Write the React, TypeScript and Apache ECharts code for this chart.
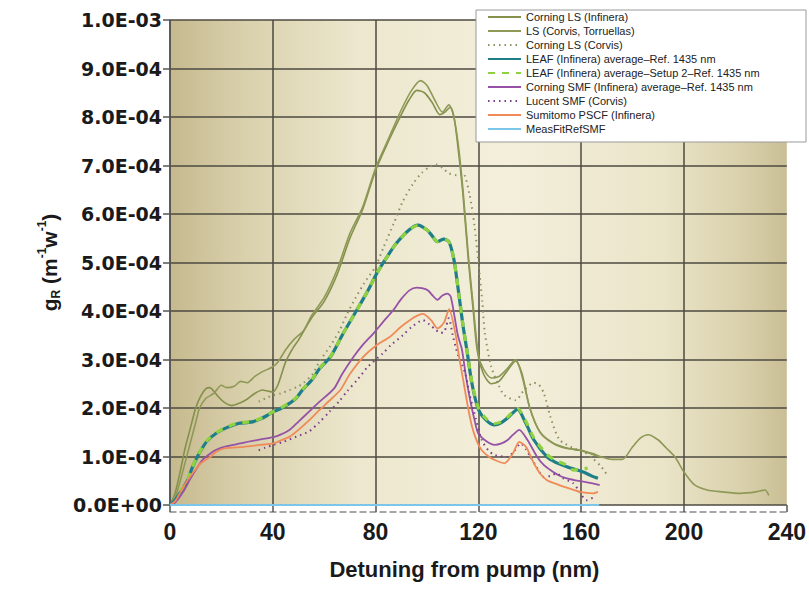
import React, { useEffect, useRef } from "react";
import * as echarts from "echarts";

// Values: [detuning nm, gR in units of 1e-4 m^-1 W^-1]
const UNIT = 1e-4;

const corningLsInfinera: number[][] = [
  [0, 0], [2, 0.25], [4, 0.7], [6, 1.2], [8, 1.6], [10, 2.0], [12, 2.25], [14, 2.4], [15.5, 2.42], [17, 2.35],
  [19, 2.22], [21, 2.12], [24, 2.05], [27, 2.1], [30, 2.18], [33, 2.3], [36, 2.37], [38, 2.35], [40, 2.33],
  [42, 2.48], [45, 2.95], [48, 3.25], [50, 3.4], [55, 3.85], [60, 4.2], [65, 4.75], [70, 5.5], [75, 6.1],
  [80, 6.9], [85, 7.5], [90, 8.05], [93, 8.35], [96, 8.55], [99, 8.5], [102, 8.3], [105, 8.05], [107, 8.1],
  [109, 8.2], [110.5, 8.0], [112, 7.4], [114, 6.4], [116, 5.1], [118, 4.0], [119.5, 3.2], [122, 2.7],
  [125, 2.5], [128, 2.55], [131, 2.75], [134.5, 2.97], [137, 2.7], [140, 2.0], [144, 1.5], [149, 1.28],
  [154, 1.18], [160, 1.12], [164, 1.05], [168, 0.98],
];

const lsCorvisTorruellas: number[][] = [
  [0, 0], [2, 0.15], [4, 0.5], [6, 0.9], [8, 1.3], [10, 1.7], [11.5, 2.0], [14, 2.2], [17, 2.3], [20, 2.47],
  [22, 2.42], [25, 2.45], [27.5, 2.55], [30, 2.52], [33, 2.65], [36, 2.75], [40, 2.85], [42, 2.95], [45, 3.2],
  [48, 3.4], [52, 3.6], [55, 3.9], [60, 4.28], [65, 4.85], [70, 5.6], [75, 6.15], [80, 6.95], [85, 7.55],
  [90, 8.15], [94, 8.55], [97.5, 8.75], [100, 8.65], [103, 8.35], [106, 8.1], [108.5, 8.25], [110, 8.1],
  [112, 7.5], [114, 6.5], [116, 5.2], [118, 4.1], [120, 3.1], [122, 2.8], [125, 2.62], [128, 2.65], [131, 2.8],
  [134.5, 3.0], [137, 2.65], [140, 2.0], [144, 1.5], [149, 1.27], [154, 1.17], [160, 1.13], [164.5, 1.06],
  [168, 0.99], [172, 0.94], [176, 0.94], [180, 1.2], [183, 1.38], [186, 1.45], [190, 1.34], [193, 1.18],
  [196.5, 0.99], [200, 0.68], [204, 0.42], [209, 0.31], [215, 0.27], [222, 0.24], [228, 0.27], [231.5, 0.31],
  [233, 0.2],
];

const corningLsCorvis: number[][] = [
  [34.5, 2.13], [38, 2.22], [40, 2.26], [43, 2.3], [46.5, 2.37], [50, 2.45], [52, 2.52], [55.5, 2.7], [58, 2.95],
  [62, 3.25], [66, 3.6], [69, 3.95], [72, 4.25], [75.5, 4.57], [80, 4.92], [83, 5.3], [87, 5.8], [90.5, 6.25],
  [94.5, 6.62], [98, 6.85], [101, 6.97], [103.5, 7.02], [106, 6.95], [108.5, 6.84], [111.5, 6.8], [114, 6.84],
  [116.5, 6.42], [118.5, 5.75], [120, 5.0], [121.5, 4.2], [122.5, 3.55], [125, 2.85], [128, 2.45], [130, 2.27],
  [134.5, 2.16], [137.5, 2.35], [141.5, 2.52], [143.5, 2.48], [145.5, 2.3], [148, 1.82], [151.5, 1.35],
  [157, 1.17], [161, 1.1], [164.5, 0.96], [167.8, 0.79], [169.7, 0.65],
];

const leafInfinera: number[][] = [
  [0, 0], [2, 0.1], [4.5, 0.3], [7, 0.52], [8.5, 0.75], [10.3, 0.96], [12.5, 1.17], [14.8, 1.34], [18, 1.48],
  [21.4, 1.58], [26.5, 1.68], [30, 1.7], [32.5, 1.72], [35, 1.77], [37.6, 1.84], [40, 1.92], [42.8, 1.98],
  [46, 2.08], [49, 2.2], [51.7, 2.38], [55.5, 2.6], [58, 2.8], [62.5, 3.06], [67, 3.5], [72.7, 4.02],
  [77, 4.42], [80.4, 4.77], [84, 5.08], [88, 5.39], [93, 5.67], [96.5, 5.77], [100, 5.67], [102, 5.55],
  [104, 5.43], [106.5, 5.48], [108.5, 5.43], [110.5, 5.05], [112.5, 4.3], [114, 3.7], [115.5, 3.2],
  [117.5, 2.5], [120, 1.97], [123, 1.75], [126.3, 1.65], [129, 1.7], [131.5, 1.8], [135.2, 1.97],
  [138.5, 1.68], [141.6, 1.34], [146.7, 0.99], [150, 0.88], [154.4, 0.79], [160.8, 0.68], [164, 0.6],
  [166.5, 0.55],
];

const leafSetup2: number[][] = [
  [4, 0.28], [7, 0.54], [8.5, 0.76], [10.3, 0.97], [12.5, 1.18], [14.8, 1.35], [18, 1.49], [21.4, 1.59],
  [26.5, 1.69], [30, 1.71], [32.5, 1.73], [35, 1.78], [37.6, 1.85], [40, 1.92], [42.8, 1.99], [46, 2.09],
  [49, 2.21], [51.7, 2.39], [55.5, 2.61], [58, 2.81], [62.5, 3.07], [67, 3.5], [72.7, 4.02], [77, 4.42],
  [80.4, 4.77], [84, 5.08], [88, 5.39], [93, 5.67], [96.5, 5.77], [100, 5.67], [102, 5.55], [104, 5.43],
  [106.5, 5.48], [108.5, 5.43], [110.5, 5.05], [112.5, 4.3], [114, 3.7], [115.5, 3.2], [117.5, 2.52],
  [120, 2.0], [123, 1.78], [126.3, 1.68], [129, 1.72], [131.5, 1.82], [135.2, 1.99], [138.5, 1.72],
  [141.6, 1.38], [146.7, 1.04], [150, 0.92], [154.4, 0.82], [157, 0.72], [160, 0.74], [162.5, 0.76],
];

const corningSmf: number[][] = [
  [0, 0], [2, 0.05], [5, 0.26], [8, 0.55], [10.8, 0.79], [13, 0.95], [15.9, 1.07], [18, 1.14], [21.1, 1.2],
  [27.4, 1.27], [33.8, 1.34], [40.2, 1.4], [43, 1.45], [46.6, 1.55], [50, 1.72], [54.2, 1.93], [58, 2.12],
  [63.8, 2.4], [67, 2.7], [71.5, 3.06], [75, 3.3], [79.2, 3.54], [83, 3.78], [86.9, 4.02], [90, 4.25],
  [93.3, 4.43], [96, 4.48], [98, 4.47], [100.3, 4.43], [102, 4.33], [104.1, 4.23], [106, 4.32], [107.9, 4.36],
  [109.2, 4.3], [110.5, 3.95], [112, 3.5], [113.6, 3.2], [115, 2.7], [116.8, 2.16], [118.5, 1.75],
  [119.9, 1.48], [123, 1.32], [126.3, 1.24], [129, 1.27], [131.4, 1.34], [133.5, 1.45], [135.9, 1.55],
  [139.1, 1.34], [142.9, 0.99], [145.5, 0.82], [148, 0.72], [151, 0.62], [154.4, 0.55], [160.8, 0.48],
  [164, 0.45], [167.2, 0.41],
];

const lucentSmf: number[][] = [
  [34.5, 1.13], [37, 1.18], [40.2, 1.24], [44, 1.3], [49.2, 1.41], [54.2, 1.52], [58, 1.7], [62, 1.92],
  [66, 2.15], [69, 2.35], [72.7, 2.57], [77, 2.85], [82.9, 3.13], [86, 3.3], [90.6, 3.5], [94, 3.67],
  [98.4, 3.81], [101, 3.72], [103.5, 3.61], [105, 3.55], [106.7, 3.57], [108.5, 3.85], [110, 3.5], [112, 3.1],
  [114.9, 2.71], [116.5, 2.3], [118.1, 1.96], [121.3, 1.34], [124, 1.12], [126.3, 1.03], [131.4, 0.99],
  [134, 1.12], [136.5, 1.27], [138.5, 1.15], [140.3, 0.99], [143, 0.75], [145.4, 0.58], [148, 0.6],
  [150.5, 0.65], [153, 0.55], [156.9, 0.45], [159, 0.3], [162.1, 0.1], [165.3, 0.17],
];

const sumitomoPscf: number[][] = [
  [0, 0], [2, 0.08], [4.8, 0.34], [7, 0.52], [9.3, 0.69], [12, 0.86], [15.9, 1.0], [18, 1.1], [21.1, 1.17],
  [24, 1.18], [28.7, 1.2], [35.1, 1.24], [40.2, 1.27], [43, 1.33], [46.6, 1.41], [50, 1.55], [54.2, 1.75],
  [58, 1.95], [62, 2.15], [66.3, 2.37], [70, 2.7], [75.3, 3.06], [80, 3.28], [85.6, 3.47], [90, 3.68],
  [93.3, 3.81], [96, 3.9], [98.4, 3.94], [101.6, 3.81], [104.1, 3.64], [106.6, 3.76], [108.6, 4.04],
  [111, 3.55], [112.5, 3.05], [114.3, 2.51], [116, 2.0], [117.5, 1.62], [119.5, 1.3], [121.3, 1.13],
  [124, 1.0], [126.3, 0.93], [130.1, 0.86], [133.4, 1.06], [135.9, 1.3], [138.5, 1.2], [141.6, 0.86],
  [144, 0.65], [146.7, 0.51], [150, 0.44], [153.1, 0.38], [159.5, 0.27], [164.6, 0.24], [166.5, 0.27],
];

const measFitRefSmf: number[][] = [
  [0, 0], [167, 0],
];

const xTicks = { min: 0, max: 240, interval: 40 };
const yTicks = { min: 0, max: 1e-3, interval: 1e-4 };

const FONT = "'Liberation Sans', Arial, Helvetica, sans-serif";
const WIDE_FONT = "'DejaVu Sans', 'Liberation Sans', Arial, sans-serif";

function sciLabel(v: number): string {
  if (Math.abs(v) < 1e-12) return "0.0E+00";
  const [m, e] = v.toExponential(1).split("e");
  const sign = e[0] === "-" ? "-" : "+";
  const d = e.replace(/[+-]/, "").padStart(2, "0");
  return `${m}E${sign}${d}`;
}

const toData = (arr: number[][]) => arr.map(([x, y]) => [x, y * UNIT]);

export default function App() {
  const ref = useRef<HTMLDivElement>(null);
  useEffect(() => {
    document.body.style.margin = "0";
    document.body.style.background = "#ffffff";
    if (!ref.current) return;
    const chart = echarts.init(ref.current, undefined, { renderer: "svg" });
    const line = (
      name: string,
      data: number[][],
      color: string,
      width: number,
      type: any = "solid",
      smooth: number = 0.25
    ) => ({
      name,
      type: "line",
      data: toData(data),
      symbol: "none",
      smooth,
      lineStyle: { color, width, type },
      itemStyle: { color },
      z: 2,
    });
    chart.setOption({
      animation: false,
      backgroundColor: "#ffffff",
      grid: {
        left: 170,
        right: 12,
        top: 20,
        bottom: 87,
        show: true,
        borderWidth: 0,
        backgroundColor: new echarts.graphic.LinearGradient(0, 0, 1, 0, [
          { offset: 0, color: "#c6b98e" },
          { offset: 0.12, color: "#d9d0ac" },
          { offset: 0.3, color: "#ece7cd" },
          { offset: 0.55, color: "#f3efdb" },
          { offset: 0.8, color: "#eae4c8" },
          { offset: 0.93, color: "#d9d0ab" },
          { offset: 1, color: "#c9be95" },
        ]),
      },
      graphic: [
        {
          type: "rect",
          z: 3,
          shape: { x: 476, y: 10, width: 330, height: 132 },
          style: { fill: "#ffffff", stroke: "#9a9a9a", lineWidth: 1 },
          silent: true,
        },
      ],
      legend: {
        orient: "vertical",
        left: 476,
        top: 10,
        z: 4,
        itemWidth: 33,
        itemHeight: 10,
        itemGap: 2,
        padding: [1, 10, 7, 11],
        itemStyle: { opacity: 0 },
        textStyle: { fontSize: 11, color: "#222222", fontFamily: FONT, lineHeight: 12 },
        data: [
          "Corning LS (Infinera)",
          "LS (Corvis, Torruellas)",
          "Corning LS (Corvis)",
          "LEAF (Infinera) average–Ref. 1435 nm",
          "LEAF (Infinera) average–Setup 2–Ref. 1435 nm",
          "Corning SMF (Infinera) average–Ref. 1435 nm",
          "Lucent SMF (Corvis)",
          "Sumitomo PSCF (Infinera)",
          "MeasFitRefSMF",
        ],
      },
      xAxis: {
        type: "value",
        min: xTicks.min,
        max: xTicks.max,
        interval: xTicks.interval,
        offset: 7,
        name: "Detuning from pump (nm)",
        nameLocation: "middle",
        nameGap: 46,
        nameTextStyle: {
          fontSize: 22,
          fontWeight: "bold",
          color: "#1a1a1a",
          fontFamily: FONT,
          padding: [0, 28, 0, 0],
        },
        axisLine: { show: true, onZero: false, lineStyle: { color: "#8a8a8a", width: 1.5, type: [6, 4] } },
        axisTick: { show: true, inside: true, length: 7, lineStyle: { color: "#555555", width: 1.5 } },
        axisLabel: {
          fontSize: 23,
          fontWeight: "bold",
          color: "#1a1a1a",
          fontFamily: FONT,
          margin: 8,
        },
        splitLine: { show: true, showMaxLine: false, lineStyle: { color: "#4d4a40", width: 1.5 } },
      },
      yAxis: {
        type: "value",
        min: yTicks.min,
        max: yTicks.max,
        interval: yTicks.interval,
        name: "{a|g}{sub|R}{a| (m}{sup|-1}{a|w}{sup|-1}{a|)}",
        nameLocation: "middle",
        nameRotate: 90,
        nameGap: 108,
        nameTextStyle: {
          color: "#1a1a1a",
          fontFamily: FONT,
          rich: {
            a: { fontSize: 21, fontWeight: "bold", fontFamily: FONT, color: "#1a1a1a", lineHeight: 26 },
            sub: { fontSize: 12, fontWeight: "bold", fontFamily: FONT, color: "#1a1a1a", verticalAlign: "bottom", lineHeight: 12 },
            sup: { fontSize: 12, fontWeight: "bold", fontFamily: FONT, color: "#1a1a1a", verticalAlign: "top", lineHeight: 12 },
          },
        },
        axisLine: { show: true, lineStyle: { color: "#555555", width: 1.5 } },
        axisTick: { show: true, length: 7, lineStyle: { color: "#555555", width: 1.5 } },
        axisLabel: {
          fontSize: 19,
          fontWeight: "bold",
          color: "#1a1a1a",
          fontFamily: WIDE_FONT,
          margin: 8,
          formatter: (v: number) => sciLabel(v),
        },
        splitLine: { show: true, lineStyle: { color: "#4d4a40", width: 1.5 } },
      },
      series: [
        line("Corning LS (Infinera)", corningLsInfinera, "#84904b", 1.6),
        line("LS (Corvis, Torruellas)", lsCorvisTorruellas, "#8e9958", 1.6),
        line("Corning LS (Corvis)", corningLsCorvis, "#8c9160", 2, [1.5, 4]),
        line("LEAF (Infinera) average–Ref. 1435 nm", leafInfinera, "#1f7f88", 3.2),
        line("LEAF (Infinera) average–Setup 2–Ref. 1435 nm", leafSetup2, "#8fd13f", 3.2, [7, 7]),
        line("Corning SMF (Infinera) average–Ref. 1435 nm", corningSmf, "#9552a6", 1.8),
        line("Lucent SMF (Corvis)", lucentSmf, "#7a3c8c", 2, [1.5, 4]),
        line("Sumitomo PSCF (Infinera)", sumitomoPscf, "#f08a58", 1.8),
        line("MeasFitRefSMF", measFitRefSmf, "#7cc6ea", 2.2, "solid", 0),
      ],
    });
    return () => chart.dispose();
  }, []);
  return (
    <div
      ref={ref}
      style={{ position: "absolute", left: 0, top: 0, width: 809, height: 592 }}
    />
  );
}
